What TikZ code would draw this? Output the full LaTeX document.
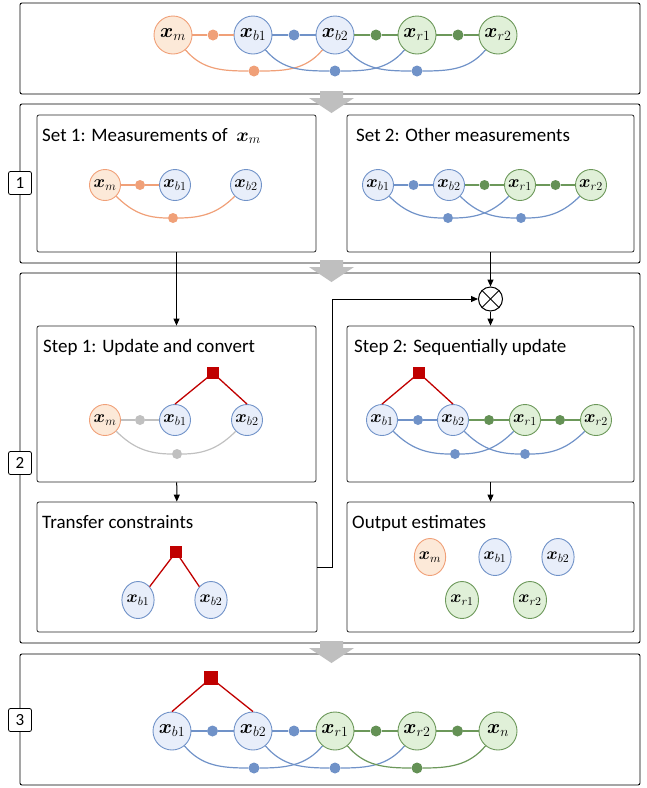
\RequirePackage{fix-cm}
\documentclass[tikz,border=0pt]{standalone}
\usepackage[no-math]{fontspec}
\setmainfont{Carlito}
\usepackage{bm}
\usetikzlibrary{arrows.meta,shapes.geometric}

\definecolor{oline}{RGB}{240,160,120}
\definecolor{ofill}{RGB}{252,233,216}
\definecolor{bline}{RGB}{112,146,200}
\definecolor{bfill}{RGB}{232,238,250}
\definecolor{gline}{RGB}{108,152,90}
\definecolor{gfill}{RGB}{224,240,216}
\definecolor{gdot}{RGB}{100,145,85}
\definecolor{greyl}{RGB}{192,192,192}
\definecolor{fred}{RGB}{192,0,0}
\definecolor{arrgray}{RGB}{191,191,191}

\tikzset{
  frame/.style={draw, line width=0.9pt, rounded corners=2pt},
  box/.style={draw=black!85, line width=0.8pt, rounded corners=2pt},
  lbl/.style={draw, fill=white, rounded corners=2pt, minimum size=23pt, inner sep=0pt, line width=0.8pt, font=\fontsize{17}{17}\selectfont},
  ttl/.style={anchor=base west, inner sep=0pt, font=\fontsize{19}{19}\selectfont},
  var/.style={circle, line width=0.9pt, inner sep=0pt},
  big/.style={var, minimum size=38pt, font=\fontsize{20}{20}\selectfont},
  mid/.style={var, minimum size=31pt, font=\fontsize{17.5}{17.5}\selectfont},
  oval/.style={ellipse, line width=0.9pt, inner sep=0pt, minimum width=31pt, minimum height=37pt, font=\fontsize{17}{17}\selectfont},
  vm/.style={draw=oline, fill=ofill},
  vb/.style={draw=bline, fill=bfill},
  vr/.style={draw=gline, fill=gfill},
  fdot/.style={circle, inner sep=0pt, minimum size=10pt},
  fsq/.style={rectangle, fill=fred, inner sep=0pt, minimum size=12pt},
  ln/.style={line width=1.2pt},
  redln/.style={line width=1.3pt, draw=fred},
  conn/.style={line width=1pt, -{Triangle[length=7pt,width=6pt]}},
}
\newcommand{\grayarrow}[1]{\fill[arrgray] (320,#1) -- (343,#1) -- (343,#1+7) -- (354,#1+7) -- (331.5,#1+22) -- (309,#1+7) -- (320,#1+7) -- cycle;}

\begin{document}
\begin{tikzpicture}[x=1pt,y=-1pt]
\useasboundingbox (0,0) rectangle (647,788);

% outer frames
\draw[frame] (20,3) rectangle (640,94);
\draw[frame] (20,104) rectangle (640,263);
\draw[frame] (20,273) rectangle (640,643);
\draw[frame] (20,654) rectangle (640,785);
\grayarrow{91}
\grayarrow{260}
\grayarrow{641}
\node[lbl] (l1) at (20,183) {1};
\node[lbl] (l2) at (20,463) {2};
\node[lbl] (l3) at (20,720) {3};

%%%%% top row %%%%%
\node[big,vm] (tm)  at (173,35) {$\bm{x}_m$};
\node[big,vb] (tb1) at (253,35) {$\bm{x}_{b1}$};
\node[big,vb] (tb2) at (335,35) {$\bm{x}_{b2}$};
\node[big,vr] (tr1) at (417,35) {$\bm{x}_{r1}$};
\node[big,vr] (tr2) at (498,35) {$\bm{x}_{r2}$};
\node[fdot,minimum size=11pt,fill=oline] (td1) at (213,35) {};
\node[fdot,minimum size=11pt,fill=bline] (td2) at (294,35) {};
\node[fdot,minimum size=11pt,fill=gdot] (td3) at (376,35) {};
\node[fdot,minimum size=11pt,fill=gdot] (td4) at (458,35) {};
\node[fdot,minimum size=11pt,fill=oline] (ta1) at (254,71) {};
\node[fdot,minimum size=11pt,fill=bline] (ta2) at (335,71) {};
\node[fdot,minimum size=11pt,fill=bline] (ta3) at (417,71) {};
\draw[ln,oline] (tm) -- (td1) -- (tb1);
\draw[ln,bline] (tb1) -- (td2) -- (tb2);
\draw[ln,gline] (tb2) -- (td3) -- (tr1);
\draw[ln,gline] (tr1) -- (td4) -- (tr2);
\draw[ln,oline] (tm) to[out=-50,in=180] (ta1) to[out=0,in=-130] (tb2);
\draw[ln,bline] (tb1) to[out=-50,in=180] (ta2) to[out=0,in=-130] (tr1);
\draw[ln,bline] (tb2) to[out=-50,in=180] (ta3) to[out=0,in=-130] (tr2);

%%%%% set 1 %%%%%
\node[box, minimum width=279pt, minimum height=137pt] (set1) at (176.5,183.5) {};
\node[ttl] (set1t) at (42,141) {Set 1: Measurements of~ {\fontsize{19}{19}\selectfont$\bm{x}_m$}};
\node[mid,vm] (am)  at (105,185) {$\bm{x}_m$};
\node[mid,vb] (ab1) at (175,185) {$\bm{x}_{b1}$};
\node[mid,vb] (ab2) at (246,185) {$\bm{x}_{b2}$};
\node[fdot,fill=oline] (ad1) at (140,185) {};
\node[fdot,fill=oline] (aa1) at (173,218) {};
\draw[ln,oline] (am) -- (ad1) -- (ab1);
\draw[ln,oline] (am) to[out=-45,in=180] (aa1) to[out=0,in=-135] (ab2);

%%%%% set 2 %%%%%
\node[box, minimum width=287pt, minimum height=137pt] (set2) at (490.5,183.5) {};
\node[ttl] (set2t) at (356,141) {Set 2: Other measurements};
\node[mid,vb] (bb1) at (378,185) {$\bm{x}_{b1}$};
\node[mid,vb] (bb2) at (449,185) {$\bm{x}_{b2}$};
\node[mid,vr] (br1) at (520,185) {$\bm{x}_{r1}$};
\node[mid,vr] (br2) at (591,185) {$\bm{x}_{r2}$};
\node[fdot,fill=bline] (bd1) at (413.5,185) {};
\node[fdot,fill=gdot] (bd2) at (484.5,185) {};
\node[fdot,fill=gdot] (bd3) at (555.5,185) {};
\node[fdot,fill=bline] (ba1) at (448,218) {};
\node[fdot,fill=bline] (ba2) at (521,218) {};
\draw[ln,bline] (bb1) -- (bd1) -- (bb2);
\draw[ln,gline] (bb2) -- (bd2) -- (br1);
\draw[ln,gline] (br1) -- (bd3) -- (br2);
\draw[ln,bline] (bb1) to[out=-45,in=180] (ba1) to[out=0,in=-135] (br1);
\draw[ln,bline] (bb2) to[out=-45,in=180] (ba2) to[out=0,in=-135] (br2);

%%%%% step 1 %%%%%
\node[box, minimum width=279pt, minimum height=156pt] (step1) at (176.5,404) {};
\node[ttl] (step1t) at (43,352) {Step 1: Update and convert};
\node[mid,vm] (cm)  at (105,420) {$\bm{x}_m$};
\node[mid,vb] (cb1) at (175,420) {$\bm{x}_{b1}$};
\node[mid,vb] (cb2) at (247,420) {$\bm{x}_{b2}$};
\node[fdot,fill=greyl] (cd1) at (140,420) {};
\node[fdot,fill=greyl] (ca1) at (177,454) {};
\node[fsq] (cf) at (213,373) {};
\draw[ln,greyl] (cm) -- (cd1) -- (cb1);
\draw[ln,greyl] (cm) to[out=-45,in=180] (ca1) to[out=0,in=-135] (cb2);
\draw[redln] (cf.center) -- (cb1.north);
\draw[redln] (cf.center) -- (cb2.north);

%%%%% step 2 %%%%%
\node[box, minimum width=287pt, minimum height=156pt] (step2) at (490.5,404) {};
\node[ttl] (step2t) at (354,352) {Step 2: Sequentially update};
\node[mid,vb] (db1) at (382,420) {$\bm{x}_{b1}$};
\node[mid,vb] (db2) at (453,420) {$\bm{x}_{b2}$};
\node[mid,vr] (dr1) at (525,420) {$\bm{x}_{r1}$};
\node[mid,vr] (dr2) at (596,420) {$\bm{x}_{r2}$};
\node[fdot,fill=bline] (dd1) at (418,420) {};
\node[fdot,fill=gdot] (dd2) at (489,420) {};
\node[fdot,fill=gdot] (dd3) at (560,420) {};
\node[fdot,fill=bline] (da1) at (455,454) {};
\node[fdot,fill=bline] (da2) at (525,454) {};
\node[fsq] (df) at (419,373) {};
\draw[ln,bline] (db1) -- (dd1) -- (db2);
\draw[ln,gline] (db2) -- (dd2) -- (dr1);
\draw[ln,gline] (dr1) -- (dd3) -- (dr2);
\draw[ln,bline] (db1) to[out=-45,in=180] (da1) to[out=0,in=-135] (dr1);
\draw[ln,bline] (db2) to[out=-45,in=180] (da2) to[out=0,in=-135] (dr2);
\draw[redln] (df.center) -- (db1.north);
\draw[redln] (df.center) -- (db2.north);

%%%%% transfer %%%%%
\node[box, minimum width=280pt, minimum height=130pt] (trans) at (177,567) {};
\node[ttl] (transt) at (42,528) {Transfer constraints};
\node[oval,vb] (eb1) at (138,600) {$\bm{x}_{b1}$};
\node[oval,vb] (eb2) at (211,600) {$\bm{x}_{b2}$};
\node[fsq] (ef) at (176,552) {};
\draw[redln] (ef.center) -- (eb1.north east);
\draw[redln] (ef.center) -- (eb2.north west);

%%%%% output %%%%%
\node[box, minimum width=287pt, minimum height=130pt] (outp) at (490.5,567) {};
\node[ttl] (outpt) at (352,528) {Output estimates};
\node[oval,vm] (om)  at (430,557) {$\bm{x}_m$};
\node[oval,vb] (ob1) at (495,557) {$\bm{x}_{b1}$};
\node[oval,vb] (ob2) at (558,557) {$\bm{x}_{b2}$};
\node[oval,vr] (or1) at (462,600) {$\bm{x}_{r1}$};
\node[oval,vr] (or2) at (530,600) {$\bm{x}_{r2}$};

%%%%% connectors %%%%%
\node[circle, draw, line width=1pt, minimum size=24pt, inner sep=0pt] (ox) at (490.5,299) {};
\draw[line width=1pt] (ox.north east) -- (ox.south west);
\draw[line width=1pt] (ox.north west) -- (ox.south east);
\draw[conn] (set1) -- (step1);
\draw[conn] (step1) -- (trans);
\draw[conn] (set2) -- (ox);
\draw[conn] (ox) -- (step2);
\draw[conn] (step2) -- (outp);
\draw[conn] (trans.east) -- ++(15,0) |- (ox.west);

%%%%% bottom row %%%%%
\node[big,vb] (fb1) at (172,731) {$\bm{x}_{b1}$};
\node[big,vb] (fb2) at (253,731) {$\bm{x}_{b2}$};
\node[big,vr] (fr1) at (335,731) {$\bm{x}_{r1}$};
\node[big,vr] (fr2) at (417,731) {$\bm{x}_{r2}$};
\node[big,vr] (fn)  at (498,731) {$\bm{x}_n$};
\node[fdot,minimum size=11pt,fill=bline] (fd1) at (212.5,731) {};
\node[fdot,minimum size=11pt,fill=bline] (fd2) at (294,731) {};
\node[fdot,minimum size=11pt,fill=gdot] (fd3) at (376,731) {};
\node[fdot,minimum size=11pt,fill=gdot] (fd4) at (457.5,731) {};
\node[fdot,minimum size=11pt,fill=bline] (fa1) at (254,768) {};
\node[fdot,minimum size=11pt,fill=bline] (fa2) at (335,768) {};
\node[fdot,minimum size=11pt,fill=gdot] (fa3) at (417,768) {};
\node[fsq,minimum size=14pt] (ff) at (211,678) {};
\draw[ln,bline] (fb1) -- (fd1) -- (fb2);
\draw[ln,bline] (fb2) -- (fd2) -- (fr1);
\draw[ln,gline] (fr1) -- (fd3) -- (fr2);
\draw[ln,gline] (fr2) -- (fd4) -- (fn);
\draw[ln,bline] (fb1) to[out=-50,in=180] (fa1) to[out=0,in=-130] (fr1);
\draw[ln,bline] (fb2) to[out=-50,in=180] (fa2) to[out=0,in=-130] (fr2);
\draw[ln,gline] (fr1) to[out=-50,in=180] (fa3) to[out=0,in=-130] (fn);
\draw[redln] (ff.center) -- (fb1.north);
\draw[redln] (ff.center) -- (fb2.north);
\end{tikzpicture}
\end{document}
